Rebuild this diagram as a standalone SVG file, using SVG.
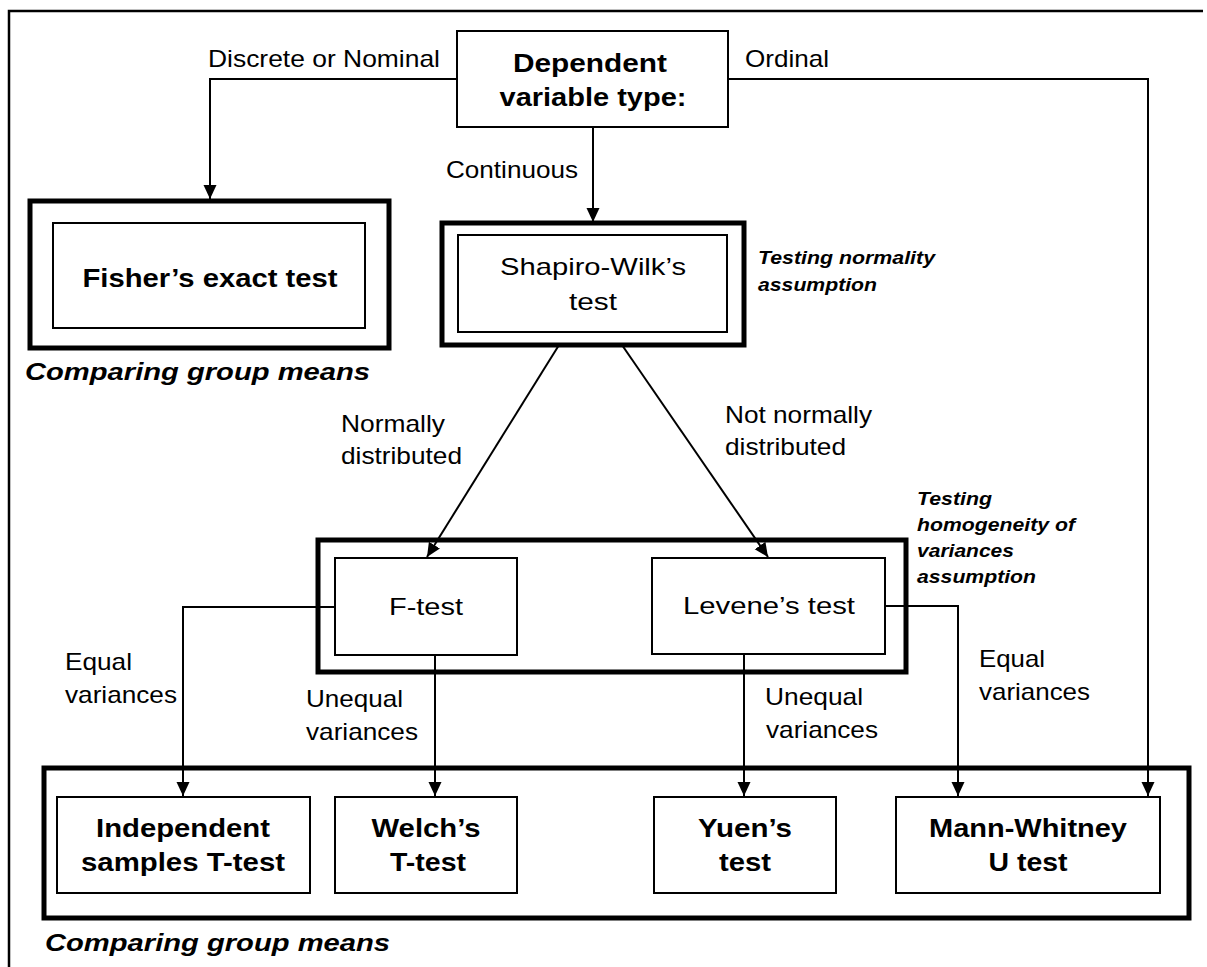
<svg xmlns="http://www.w3.org/2000/svg" width="1207" height="967" viewBox="0 0 1207 967">
<defs>
<style>
text{font-family:"Liberation Sans",Arial,Helvetica,sans-serif;fill:#000}
.r{font-size:24px}
.b{font-size:25px;font-weight:bold}
.bi{font-size:24px;font-weight:bold;font-style:italic}
.si{font-size:19px;font-weight:bold;font-style:italic}
.box{fill:#fff;stroke:#000;stroke-width:2}
.thick{fill:none;stroke:#000;stroke-width:5}
.c{fill:none;stroke:#000;stroke-width:2}
</style>
<marker id="ah" markerWidth="14" markerHeight="14" viewBox="0 0 14 14" refX="14" refY="7" orient="auto" markerUnits="userSpaceOnUse"><path d="M0,0.5 L14,7 L0,13.5 z" fill="#000"/></marker>
</defs>
<rect width="1207" height="967" fill="#fff"/>
<path d="M9,967 V11 H1203" fill="none" stroke="#000" stroke-width="2.5"/>

<g id="connectors">
<path class="c" d="M457,79 H210 V199" marker-end="url(#ah)"/>
<path class="c" d="M728,79 H1148 V796" marker-end="url(#ah)"/>
<path class="c" d="M593,127 V222" marker-end="url(#ah)"/>
<path class="c" d="M559,345 L427,557" marker-end="url(#ah)"/>
<path class="c" d="M622,345 L768,557" marker-end="url(#ah)"/>
<path class="c" d="M335,607 H183 V796" marker-end="url(#ah)"/>
<path class="c" d="M435,655 V796" marker-end="url(#ah)"/>
<path class="c" d="M744,654 V796" marker-end="url(#ah)"/>
<path class="c" d="M885,606 H958 V796" marker-end="url(#ah)"/>
<text class="r" x="208" y="67" textLength="232" lengthAdjust="spacingAndGlyphs">Discrete or Nominal</text>
<text class="r" x="745" y="67" textLength="84" lengthAdjust="spacingAndGlyphs">Ordinal</text>
<text class="r" x="446" y="178" textLength="132" lengthAdjust="spacingAndGlyphs">Continuous</text>
<text class="r" x="341" y="432" textLength="104" lengthAdjust="spacingAndGlyphs">Normally</text>
<text class="r" x="341" y="464" textLength="121" lengthAdjust="spacingAndGlyphs">distributed</text>
<text class="r" x="725" y="423" textLength="147" lengthAdjust="spacingAndGlyphs">Not normally</text>
<text class="r" x="725" y="455" textLength="121" lengthAdjust="spacingAndGlyphs">distributed</text>
<text class="r" x="65" y="670" textLength="67" lengthAdjust="spacingAndGlyphs">Equal</text>
<text class="r" x="65" y="703" textLength="112" lengthAdjust="spacingAndGlyphs">variances</text>
<text class="r" x="306" y="707" textLength="97" lengthAdjust="spacingAndGlyphs">Unequal</text>
<text class="r" x="306" y="740" textLength="112" lengthAdjust="spacingAndGlyphs">variances</text>
<text class="r" x="765" y="705" textLength="98" lengthAdjust="spacingAndGlyphs">Unequal</text>
<text class="r" x="766" y="738" textLength="112" lengthAdjust="spacingAndGlyphs">variances</text>
<text class="r" x="979" y="667" textLength="66" lengthAdjust="spacingAndGlyphs">Equal</text>
<text class="r" x="979" y="700" textLength="111" lengthAdjust="spacingAndGlyphs">variances</text>
</g>

<g id="dependent">
<rect class="box" x="457" y="31" width="271" height="96"/>
<text class="b" x="590" y="72" text-anchor="middle" textLength="154" lengthAdjust="spacingAndGlyphs">Dependent</text>
<text class="b" x="593" y="106" text-anchor="middle" textLength="187" lengthAdjust="spacingAndGlyphs">variable type:</text>
</g>

<g id="fisher">
<rect class="thick" x="30" y="201" width="359" height="147"/>
<rect class="box" x="53" y="223" width="312" height="105"/>
<text class="b" x="210" y="287" text-anchor="middle" textLength="255" lengthAdjust="spacingAndGlyphs">Fisher’s exact test</text>
<text class="bi" x="25" y="380" textLength="345" lengthAdjust="spacingAndGlyphs">Comparing group means</text>
</g>

<g id="shapiro">
<rect class="thick" x="442" y="223" width="302" height="122"/>
<rect class="box" x="458" y="235" width="269" height="97"/>
<text class="r" x="593" y="275" text-anchor="middle" textLength="186" lengthAdjust="spacingAndGlyphs">Shapiro-Wilk’s</text>
<text class="r" x="593" y="310" text-anchor="middle" textLength="48" lengthAdjust="spacingAndGlyphs">test</text>
<text class="si" x="758" y="264" textLength="177" lengthAdjust="spacingAndGlyphs">Testing normality</text>
<text class="si" x="758" y="291" textLength="119" lengthAdjust="spacingAndGlyphs">assumption</text>
</g>

<g id="variance-tests">
<rect class="thick" x="318" y="540" width="588" height="132"/>
<text class="si" x="917" y="505" textLength="75" lengthAdjust="spacingAndGlyphs">Testing</text>
<text class="si" x="917" y="531" textLength="158" lengthAdjust="spacingAndGlyphs">homogeneity of</text>
<text class="si" x="917" y="557" textLength="97" lengthAdjust="spacingAndGlyphs">variances</text>
<text class="si" x="917" y="583" textLength="119" lengthAdjust="spacingAndGlyphs">assumption</text>
</g>

<g id="ftest">
<rect class="box" x="335" y="558" width="182" height="97"/>
<text class="r" x="426" y="615" text-anchor="middle" textLength="74" lengthAdjust="spacingAndGlyphs">F-test</text>
</g>

<g id="levene">
<rect class="box" x="652" y="558" width="233" height="96"/>
<text class="r" x="769" y="614" text-anchor="middle" textLength="172" lengthAdjust="spacingAndGlyphs">Levene’s test</text>
</g>

<g id="final-tests">
<rect class="thick" x="44" y="768" width="1145" height="150"/>
<text class="bi" x="45" y="951" textLength="345" lengthAdjust="spacingAndGlyphs">Comparing group means</text>
</g>

<g id="independent">
<rect class="box" x="57" y="797" width="253" height="96"/>
<text class="b" x="183" y="837" text-anchor="middle" textLength="174" lengthAdjust="spacingAndGlyphs">Independent</text>
<text class="b" x="183" y="871" text-anchor="middle" textLength="204" lengthAdjust="spacingAndGlyphs">samples T-test</text>
</g>

<g id="welch">
<rect class="box" x="335" y="797" width="182" height="96"/>
<text class="b" x="426" y="837" text-anchor="middle" textLength="109" lengthAdjust="spacingAndGlyphs">Welch’s</text>
<text class="b" x="428" y="871" text-anchor="middle" textLength="76" lengthAdjust="spacingAndGlyphs">T-test</text>
</g>

<g id="yuen">
<rect class="box" x="654" y="797" width="182" height="96"/>
<text class="b" x="745" y="837" text-anchor="middle" textLength="94" lengthAdjust="spacingAndGlyphs">Yuen’s</text>
<text class="b" x="745" y="871" text-anchor="middle" textLength="52" lengthAdjust="spacingAndGlyphs">test</text>
</g>

<g id="mann-whitney">
<rect class="box" x="896" y="797" width="264" height="96"/>
<text class="b" x="1028" y="837" text-anchor="middle" textLength="198" lengthAdjust="spacingAndGlyphs">Mann-Whitney</text>
<text class="b" x="1028" y="871" text-anchor="middle" textLength="79" lengthAdjust="spacingAndGlyphs">U test</text>
</g>
</svg>
